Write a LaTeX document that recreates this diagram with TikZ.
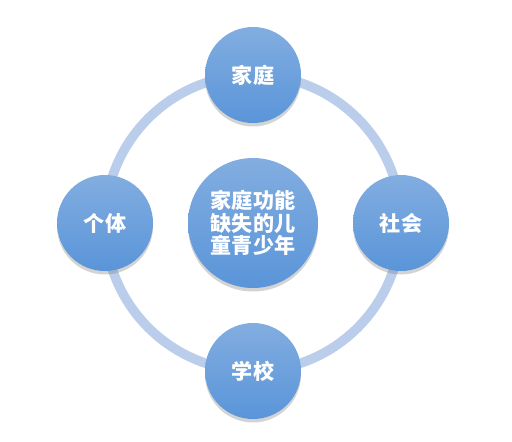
\documentclass[tikz,border=0pt]{standalone}
\usepackage{fontspec}
\newfontfamily\cjk{Noto Sans CJK SC}
\usepackage{tikz}
\usetikzlibrary{shadows}

\definecolor{ringblue}{RGB}{186,205,234}
\definecolor{balltop}{RGB}{130,173,224}
\definecolor{ballbot}{RGB}{90,149,217}

\tikzset{
  ball/.style={circle, top color=balltop, bottom color=ballbot, draw=none,
    text=white, font=\cjk\bfseries\fontsize{12}{12.8}\selectfont, align=center,
    drop shadow={shadow xshift=0pt, shadow yshift=-0.07cm, opacity=0.35}},
  ring/.style={draw=ringblue, line width=0.19cm}
}

\begin{document}
\begin{tikzpicture}
				\useasboundingbox (0,0) rectangle (10.24,8.82);
				\coordinate (mid) at (5.06,4.36);
				% ring behind the balls
				\draw[ring] (mid) circle (2.96cm);

				\node (core) [ball, minimum size=2.6cm] at (mid) {家庭功能\\缺失的儿\\童青少年};
				\node (family) [ball, minimum size=1.92cm, above of=core, node distance=2.96cm] {家庭};
				\node (society) [ball, minimum size=1.92cm, right of=core, node distance=2.96cm] {社会};
				\node (school) [ball, minimum size=1.92cm, below of=core, node distance=2.96cm] {学校};
				\node (person) [ball, minimum size=1.92cm, left of=core, node distance=2.96cm] {个体};
			\end{tikzpicture}
\end{document}
